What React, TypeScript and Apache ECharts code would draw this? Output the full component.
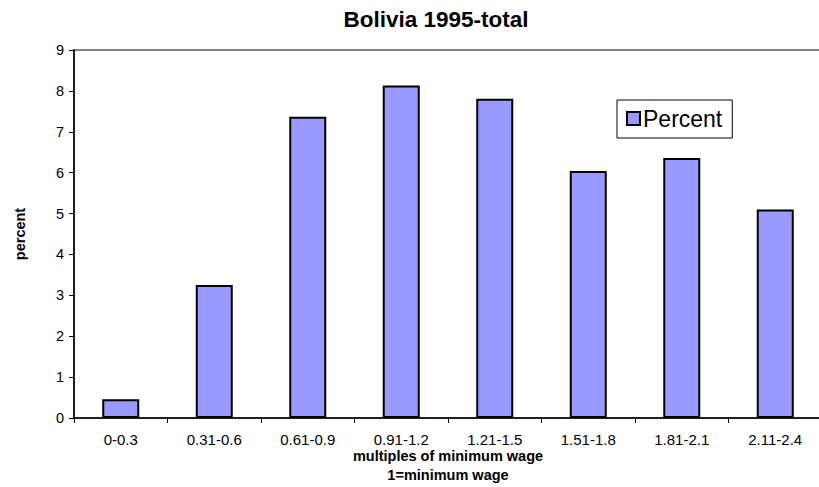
import React, { useEffect, useRef } from "react";
import * as echarts from "echarts";

const categories = ["0-0.3", "0.31-0.6", "0.61-0.9", "0.91-1.2", "1.21-1.5", "1.51-1.8", "1.81-2.1", "2.11-2.4"];
const percentValues = [0.46, 3.25, 7.37, 8.13, 7.81, 6.04, 6.36, 5.1];
const seriesName = "Percent";
const titleText = "Bolivia 1995-total";
const xAxisName = "multiples of minimum wage\n1=minimum wage";
const yAxisName = "percent";

const FONT = "'Liberation Sans', Arial, sans-serif";

export default function App() {
  const ref = useRef<HTMLDivElement>(null);
  useEffect(() => {
    if (!ref.current) return;
    const chart = echarts.init(ref.current, null, { renderer: "svg" });
    chart.setOption({
      animation: false,
      backgroundColor: "#ffffff",
      title: {
        text: titleText,
        left: 436,
        textAlign: "center",
        top: 8,
        padding: 0,
        textStyle: { fontFamily: FONT, fontSize: 22.5, fontWeight: "bold", color: "#000" },
      },
      legend: {
        data: [seriesName],
        left: 617,
        top: 100,
        orient: "horizontal",
        padding: [7, 10, 8, 9],
        borderColor: "#000",
        borderWidth: 1,
        itemWidth: 13,
        itemHeight: 13,
        itemGap: 4,
        icon: "rect",
        textStyle: { fontFamily: FONT, fontSize: 23, color: "#000", padding: [0, 0, 0, -2] },
      },
      grid: {
        left: 74,
        top: 50,
        right: -3,
        bottom: 69,
        outerBoundsMode: "none",
        containLabel: false,
        show: true,
        borderColor: "#808080",
        borderWidth: 2,
        backgroundColor: "transparent",
      },
      xAxis: {
        type: "category",
        data: categories,
        name: xAxisName,
        nameLocation: "middle",
        nameGap: 28,
        nameMoveOverlap: false,
        nameTextStyle: { fontFamily: FONT, fontSize: 14.5, fontWeight: "bold", color: "#000", lineHeight: 19.5 },
        axisLine: { lineStyle: { color: "#000", width: 1.5 } },
        axisTick: { show: true, length: 5, lineStyle: { color: "#000" } },
        axisLabel: { fontFamily: FONT, fontSize: 15, color: "#000", margin: 14 },
        splitLine: { show: false },
      },
      yAxis: {
        type: "value",
        min: 0,
        max: 9,
        interval: 1,
        name: yAxisName,
        nameLocation: "middle",
        nameGap: 47,
        nameMoveOverlap: false,
        nameRotate: 90,
        nameTextStyle: { fontFamily: FONT, fontSize: 14.5, fontWeight: "bold", color: "#000" },
        axisLine: { show: true, lineStyle: { color: "#000", width: 1.5 } },
        axisTick: { show: true, length: 5, lineStyle: { color: "#000" } },
        axisLabel: { fontFamily: FONT, fontSize: 14.5, color: "#000", margin: 10 },
        splitLine: { show: false },
      },
      series: [
        {
          name: seriesName,
          type: "bar",
          data: percentValues,
          barWidth: 37,
          itemStyle: { color: "#9999FF", borderColor: "#000", borderWidth: 2 },
        },
      ],
    });
    return () => chart.dispose();
  }, []);
  return (
    <div
      ref={ref}
      style={{ position: "fixed", left: 0, top: 0, width: 819, height: 487, background: "#fff" }}
    />
  );
}
